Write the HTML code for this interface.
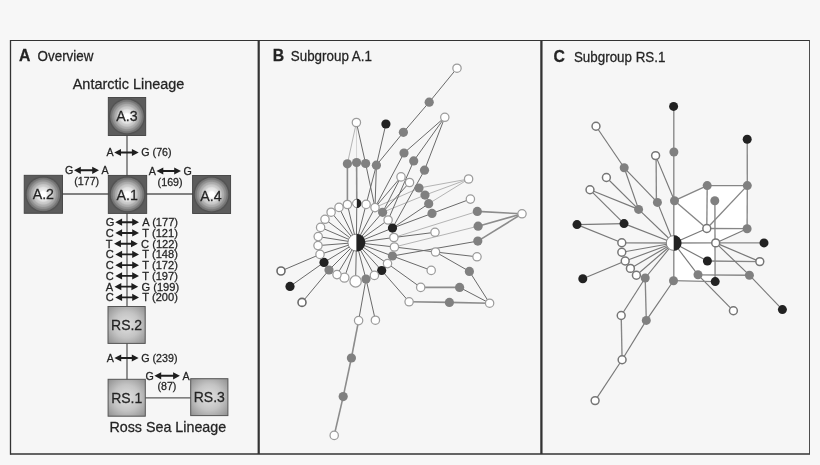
<!DOCTYPE html>
<html lang="en"><head><meta charset="utf-8"><title>Haplotype networks</title>
<style>html,body{margin:0;padding:0;background:#f7f7f7;}body{width:820px;height:465px;overflow:hidden;}svg{display:block;filter:blur(0.4px);}text{font-family:"Liberation Sans",Arial,Helvetica,sans-serif;fill:#242424;stroke:#242424;stroke-width:0.25px;}</style>
</head><body>
<svg width="820" height="465" viewBox="0 0 820 465">
<defs>
<radialGradient id="gc" cx="50%" cy="50%" r="50%"><stop offset="0" stop-color="#ffffff"/><stop offset="0.16" stop-color="#ffffff"/><stop offset="0.25" stop-color="#ebebeb"/><stop offset="0.4" stop-color="#e2e2e2"/><stop offset="0.48" stop-color="#cdcdcd"/><stop offset="0.57" stop-color="#c6c6c6"/><stop offset="0.64" stop-color="#b0b0b0"/><stop offset="0.72" stop-color="#a9a9a9"/><stop offset="0.78" stop-color="#949494"/><stop offset="0.85" stop-color="#8d8d8d"/><stop offset="0.9" stop-color="#7a7a7a"/><stop offset="1" stop-color="#6e6e6e"/></radialGradient><radialGradient id="gh" cx="50%" cy="50%" r="50%"><stop offset="0.86" stop-color="#494949"/><stop offset="1" stop-color="#494949" stop-opacity="0"/></radialGradient>
<radialGradient id="gr" cx="50%" cy="50%" r="70%"><stop offset="0" stop-color="#e0e0e0"/><stop offset="0.5" stop-color="#c4c4c4"/><stop offset="1" stop-color="#8f8f8f"/></radialGradient>
</defs>
<rect x="0" y="0" width="820" height="465" fill="#f7f7f7"/>
<rect x="10.5" y="40.5" width="799.0" height="413.5" fill="#f6f6f6"/>
<line x1="10.5" y1="40.0" x2="10.5" y2="454.7" stroke="#333" stroke-width="1.3"/>
<line x1="10.5" y1="40.5" x2="809.5" y2="40.5" stroke="#333" stroke-width="1.1"/>
<line x1="809.5" y1="40.0" x2="809.5" y2="454.7" stroke="#3a3a3a" stroke-width="0.9"/>
<line x1="10.5" y1="454.0" x2="809.5" y2="454.0" stroke="#333" stroke-width="1.6"/>
<line x1="258.7" y1="40.5" x2="258.7" y2="454.0" stroke="#333" stroke-width="2.2"/>
<line x1="541.4" y1="40.5" x2="541.4" y2="454.0" stroke="#333" stroke-width="2.3"/>
<text transform="translate(18.9 61.0) scale(1 1.06)" font-size="15.8" font-weight="bold">A</text>
<text transform="translate(37.6 60.9) scale(1 1.06)" font-size="13.4">Overview</text>
<text transform="translate(272.8 61.0) scale(1 1.06)" font-size="15.8" font-weight="bold">B</text>
<text transform="translate(290.8 60.9) scale(1 1.06)" font-size="13.4">Subgroup A.1</text>
<text transform="translate(553.6 61.9) scale(1 1.06)" font-size="15.8" font-weight="bold">C</text>
<text transform="translate(573.9 61.8) scale(1 1.06)" font-size="13.4">Subgroup RS.1</text>
<g id="panelA">
<text transform="translate(128.5 89) scale(1 1.06)" font-size="14.45" text-anchor="middle">Antarctic Lineage</text>
<text transform="translate(167.8 432.2) scale(1 1.06)" font-size="14.3" text-anchor="middle">Ross Sea Lineage</text>
<line x1="127" y1="135" x2="127" y2="176" stroke="#5a5a5a" stroke-width="1.3"/>
<line x1="127" y1="213" x2="127" y2="307" stroke="#5a5a5a" stroke-width="1.3"/>
<line x1="127" y1="343" x2="127" y2="380" stroke="#5a5a5a" stroke-width="1.3"/>
<line x1="62" y1="194" x2="109" y2="194" stroke="#5a5a5a" stroke-width="1.3"/>
<line x1="146" y1="194" x2="193" y2="194" stroke="#5a5a5a" stroke-width="1.3"/>
<line x1="145" y1="397.8" x2="191" y2="397.8" stroke="#5a5a5a" stroke-width="1.3"/>
<rect x="108.3" y="97.5" width="37.4" height="38.0" fill="#5c5c5c" stroke="#414141" stroke-width="0.9"/>
<circle cx="127.0" cy="116.5" r="18.9" fill="url(#gh)"/>
<circle cx="127.0" cy="116.5" r="16.9" fill="url(#gc)"/>
<text transform="translate(127.0 121.4) scale(1 1.06)" font-size="14.2" text-anchor="middle">A.3</text>
<rect x="108.3" y="175.4" width="38.4" height="38.0" fill="#5c5c5c" stroke="#414141" stroke-width="0.9"/>
<circle cx="127.5" cy="194.4" r="18.9" fill="url(#gh)"/>
<circle cx="127.5" cy="194.4" r="16.9" fill="url(#gc)"/>
<text transform="translate(127.2 199.8) scale(1 1.06)" font-size="14.2" text-anchor="middle">A.1</text>
<rect x="24.2" y="175.3" width="38.3" height="38.0" fill="#5c5c5c" stroke="#414141" stroke-width="0.9"/>
<circle cx="43.349999999999994" cy="194.3" r="18.9" fill="url(#gh)"/>
<circle cx="43.349999999999994" cy="194.3" r="16.9" fill="url(#gc)"/>
<text transform="translate(43.349999999999994 199.20000000000002) scale(1 1.06)" font-size="14.2" text-anchor="middle">A.2</text>
<rect x="192.6" y="175.5" width="38.0" height="38.0" fill="#5c5c5c" stroke="#414141" stroke-width="0.9"/>
<circle cx="211.6" cy="194.5" r="18.9" fill="url(#gh)"/>
<circle cx="211.6" cy="194.5" r="16.9" fill="url(#gc)"/>
<text transform="translate(211.0 200.5) scale(1 1.06)" font-size="14.2" text-anchor="middle">A.4</text>
<rect x="108.0" y="306.5" width="37.2" height="36.9" fill="url(#gr)" stroke="#555" stroke-width="1"/>
<text transform="translate(126.6 329.95) scale(1 1.06)" font-size="14" text-anchor="middle">RS.2</text>
<rect x="108.1" y="379.3" width="37.2" height="36.9" fill="url(#gr)" stroke="#555" stroke-width="1"/>
<text transform="translate(126.69999999999999 402.75) scale(1 1.06)" font-size="14" text-anchor="middle">RS.1</text>
<rect x="190.7" y="378.7" width="37.2" height="36.9" fill="url(#gr)" stroke="#555" stroke-width="1"/>
<text transform="translate(209.29999999999998 402.15) scale(1 1.06)" font-size="14" text-anchor="middle">RS.3</text>
<path d="M114.2,152.5 L121.0,148.9 L121.0,151.55 L131.89999999999998,151.55 L131.89999999999998,148.9 L138.7,152.5 L131.89999999999998,156.1 L131.89999999999998,153.45 L121.0,153.45 L121.0,156.1 Z" fill="#1e1e1e"/>
<text transform="translate(113.60000000000001 156.2) scale(1 1.06)" font-size="10.7" text-anchor="end">A</text>
<text transform="translate(141.29999999999998 156.2) scale(1 1.06)" font-size="10.7">G (76)</text>
<path d="M74,170.3 L80.8,166.70000000000002 L80.8,169.35000000000002 L92.2,169.35000000000002 L92.2,166.70000000000002 L99,170.3 L92.2,173.9 L92.2,171.25 L80.8,171.25 L80.8,173.9 Z" fill="#1e1e1e"/>
<text transform="translate(73.4 174.0) scale(1 1.06)" font-size="10.7" text-anchor="end">G</text>
<text transform="translate(101.6 174.0) scale(1 1.06)" font-size="10.7">A</text>
<text transform="translate(86.7 185.1) scale(1 1.06)" font-size="10.7" text-anchor="middle">(177)</text>
<path d="M156.5,171 L163.3,167.4 L163.3,170.05 L174.2,170.05 L174.2,167.4 L181,171 L174.2,174.6 L174.2,171.95 L163.3,171.95 L163.3,174.6 Z" fill="#1e1e1e"/>
<text transform="translate(155.9 174.7) scale(1 1.06)" font-size="10.7" text-anchor="end">A</text>
<text transform="translate(183.6 174.7) scale(1 1.06)" font-size="10.7">G</text>
<text transform="translate(170.1 185.5) scale(1 1.06)" font-size="10.7" text-anchor="middle">(169)</text>
<path d="M115.3,222.2 L122.1,218.6 L122.1,221.25 L132.2,221.25 L132.2,218.6 L139.0,222.2 L132.2,225.79999999999998 L132.2,223.14999999999998 L122.1,223.14999999999998 L122.1,225.79999999999998 Z" fill="#1e1e1e"/>
<text transform="translate(105.7 226.10) scale(1 1.06)" font-size="11.1">G</text>
<text transform="translate(142.30 226.10) scale(1 1.06)" font-size="11.1">A (177)</text>
<path d="M115.3,232.94 L122.1,229.34 L122.1,231.99 L132.2,231.99 L132.2,229.34 L139.0,232.94 L132.2,236.54 L132.2,233.89 L122.1,233.89 L122.1,236.54 Z" fill="#1e1e1e"/>
<text transform="translate(105.7 236.84) scale(1 1.06)" font-size="11.1">C</text>
<text transform="translate(142.30 236.84) scale(1 1.06)" font-size="11.1">T (121)</text>
<path d="M114.1,243.67999999999998 L120.89999999999999,240.07999999999998 L120.89999999999999,242.73 L130.99999999999997,242.73 L130.99999999999997,240.07999999999998 L137.79999999999998,243.67999999999998 L130.99999999999997,247.27999999999997 L130.99999999999997,244.62999999999997 L120.89999999999999,244.62999999999997 L120.89999999999999,247.27999999999997 Z" fill="#1e1e1e"/>
<text transform="translate(105.7 247.58) scale(1 1.06)" font-size="11.1">T</text>
<text transform="translate(141.10 247.58) scale(1 1.06)" font-size="11.1">C (122)</text>
<path d="M115.3,254.42 L122.1,250.82 L122.1,253.47 L132.2,253.47 L132.2,250.82 L139.0,254.42 L132.2,258.02 L132.2,255.36999999999998 L122.1,255.36999999999998 L122.1,258.02 Z" fill="#1e1e1e"/>
<text transform="translate(105.7 258.32) scale(1 1.06)" font-size="11.1">C</text>
<text transform="translate(142.30 258.32) scale(1 1.06)" font-size="11.1">T (148)</text>
<path d="M115.3,265.15999999999997 L122.1,261.55999999999995 L122.1,264.21 L132.2,264.21 L132.2,261.55999999999995 L139.0,265.15999999999997 L132.2,268.76 L132.2,266.10999999999996 L122.1,266.10999999999996 L122.1,268.76 Z" fill="#1e1e1e"/>
<text transform="translate(105.7 269.06) scale(1 1.06)" font-size="11.1">C</text>
<text transform="translate(142.30 269.06) scale(1 1.06)" font-size="11.1">T (172)</text>
<path d="M115.3,275.9 L122.1,272.29999999999995 L122.1,274.95 L132.2,274.95 L132.2,272.29999999999995 L139.0,275.9 L132.2,279.5 L132.2,276.84999999999997 L122.1,276.84999999999997 L122.1,279.5 Z" fill="#1e1e1e"/>
<text transform="translate(105.7 279.80) scale(1 1.06)" font-size="11.1">C</text>
<text transform="translate(142.30 279.80) scale(1 1.06)" font-size="11.1">T (197)</text>
<path d="M114.5,286.64 L121.3,283.03999999999996 L121.3,285.69 L131.39999999999998,285.69 L131.39999999999998,283.03999999999996 L138.2,286.64 L131.39999999999998,290.24 L131.39999999999998,287.59 L121.3,287.59 L121.3,290.24 Z" fill="#1e1e1e"/>
<text transform="translate(105.7 290.54) scale(1 1.06)" font-size="11.1">A</text>
<text transform="translate(141.50 290.54) scale(1 1.06)" font-size="11.1">G (199)</text>
<path d="M115.3,297.38 L122.1,293.78 L122.1,296.43 L132.2,296.43 L132.2,293.78 L139.0,297.38 L132.2,300.98 L132.2,298.33 L122.1,298.33 L122.1,300.98 Z" fill="#1e1e1e"/>
<text transform="translate(105.7 301.28) scale(1 1.06)" font-size="11.1">C</text>
<text transform="translate(142.30 301.28) scale(1 1.06)" font-size="11.1">T (200)</text>
<path d="M114.4,358 L121.2,354.4 L121.2,357.05 L131.79999999999998,357.05 L131.79999999999998,354.4 L138.6,358 L131.79999999999998,361.6 L131.79999999999998,358.95 L121.2,358.95 L121.2,361.6 Z" fill="#1e1e1e"/>
<text transform="translate(113.80000000000001 361.7) scale(1 1.06)" font-size="10.7" text-anchor="end">A</text>
<text transform="translate(141.2 361.7) scale(1 1.06)" font-size="10.7">G (239)</text>
<path d="M154.4,375.8 L161.20000000000002,372.2 L161.20000000000002,374.85 L173.1,374.85 L173.1,372.2 L179.9,375.8 L173.1,379.40000000000003 L173.1,376.75 L161.20000000000002,376.75 L161.20000000000002,379.40000000000003 Z" fill="#1e1e1e"/>
<text transform="translate(153.8 379.5) scale(1 1.06)" font-size="10.7" text-anchor="end">G</text>
<text transform="translate(182.5 379.5) scale(1 1.06)" font-size="10.7">A</text>
<text transform="translate(166.9 390.2) scale(1 1.06)" font-size="10.7" text-anchor="middle">(87)</text>
</g>
<g id="panelB">
<line x1="468.6" y1="179" x2="419" y2="188" stroke="#b4b4b4" stroke-width="1.0"/>
<line x1="468.6" y1="179" x2="425" y2="195.1" stroke="#b4b4b4" stroke-width="1.0"/>
<line x1="468.6" y1="179" x2="428.7" y2="203.7" stroke="#b4b4b4" stroke-width="1.0"/>
<line x1="375" y1="207.6" x2="419" y2="188" stroke="#b4b4b4" stroke-width="1.0"/>
<line x1="382.6" y1="212.3" x2="425" y2="195.1" stroke="#b4b4b4" stroke-width="1.0"/>
<line x1="393.9" y1="237.5" x2="477.3" y2="211.4" stroke="#b4b4b4" stroke-width="1.0"/>
<line x1="394.4" y1="247" x2="478.1" y2="226.2" stroke="#b4b4b4" stroke-width="1.0"/>
<line x1="356.4" y1="122.5" x2="347.4" y2="163.8" stroke="#b4b4b4" stroke-width="1.0"/>
<line x1="356.4" y1="122.5" x2="356.6" y2="162.5" stroke="#d4d4d4" stroke-width="1.0"/>
<line x1="457" y1="68.2" x2="429.2" y2="102.2" stroke="#6a6a6a" stroke-width="1.0"/>
<line x1="429.2" y1="102.2" x2="403.4" y2="132.3" stroke="#6a6a6a" stroke-width="1.0"/>
<line x1="403.4" y1="132.3" x2="376.4" y2="165.2" stroke="#6a6a6a" stroke-width="1.0"/>
<line x1="385.9" y1="124" x2="376.4" y2="165.2" stroke="#6a6a6a" stroke-width="1.0"/>
<line x1="356.4" y1="122.5" x2="365.6" y2="163.5" stroke="#6a6a6a" stroke-width="1.0"/>
<line x1="347.4" y1="163.8" x2="347.4" y2="204.5" stroke="#8c8c8c" stroke-width="1.6"/>
<line x1="356.6" y1="162.5" x2="356.8" y2="203.4" stroke="#8c8c8c" stroke-width="1.6"/>
<line x1="365.6" y1="163.5" x2="375" y2="207.6" stroke="#6a6a6a" stroke-width="1.0"/>
<line x1="376.4" y1="165.2" x2="366.1" y2="204.4" stroke="#6a6a6a" stroke-width="1.0"/>
<line x1="376.4" y1="165.2" x2="375" y2="207.6" stroke="#6a6a6a" stroke-width="1.0"/>
<line x1="444.8" y1="117.3" x2="404" y2="153" stroke="#6a6a6a" stroke-width="1.0"/>
<line x1="444.8" y1="117.3" x2="413.7" y2="160.9" stroke="#6a6a6a" stroke-width="1.0"/>
<line x1="444.8" y1="117.3" x2="424.5" y2="170.2" stroke="#6a6a6a" stroke-width="1.0"/>
<line x1="404" y1="153" x2="375" y2="207.6" stroke="#6a6a6a" stroke-width="1.0"/>
<line x1="413.7" y1="160.9" x2="388.1" y2="220" stroke="#6a6a6a" stroke-width="1.0"/>
<line x1="424.5" y1="170.2" x2="392.5" y2="228.1" stroke="#6a6a6a" stroke-width="1.0"/>
<line x1="375" y1="207.6" x2="401" y2="176.9" stroke="#6a6a6a" stroke-width="1.0"/>
<line x1="382.6" y1="212.3" x2="401" y2="176.9" stroke="#6a6a6a" stroke-width="1.0"/>
<line x1="382.6" y1="212.3" x2="409.5" y2="182.5" stroke="#6a6a6a" stroke-width="1.0"/>
<line x1="392.5" y1="228.1" x2="428.7" y2="203.7" stroke="#6a6a6a" stroke-width="1.0"/>
<line x1="392.5" y1="228.1" x2="432" y2="213.4" stroke="#6a6a6a" stroke-width="1.0"/>
<line x1="432" y1="213.4" x2="470.4" y2="199.1" stroke="#6a6a6a" stroke-width="1.0"/>
<line x1="393.9" y1="237.5" x2="435" y2="232.3" stroke="#6a6a6a" stroke-width="1.0"/>
<line x1="394.4" y1="247" x2="435.5" y2="252" stroke="#6a6a6a" stroke-width="1.0"/>
<line x1="392.4" y1="256" x2="477.8" y2="241.1" stroke="#6a6a6a" stroke-width="1.0"/>
<line x1="522" y1="213.8" x2="477.3" y2="211.4" stroke="#8c8c8c" stroke-width="1.6"/>
<line x1="522" y1="213.8" x2="478.1" y2="226.2" stroke="#8c8c8c" stroke-width="1.6"/>
<line x1="522" y1="213.8" x2="477.8" y2="241.1" stroke="#8c8c8c" stroke-width="1.6"/>
<line x1="435.5" y1="252" x2="477" y2="256.8" stroke="#6a6a6a" stroke-width="1.0"/>
<line x1="435.5" y1="252" x2="469.4" y2="271.4" stroke="#6a6a6a" stroke-width="1.0"/>
<line x1="469.4" y1="271.4" x2="489.6" y2="303.2" stroke="#6a6a6a" stroke-width="1.0"/>
<line x1="392.4" y1="256" x2="431.2" y2="270.4" stroke="#6a6a6a" stroke-width="1.0"/>
<line x1="387.5" y1="263.6" x2="420.7" y2="287.4" stroke="#6a6a6a" stroke-width="1.0"/>
<line x1="420.7" y1="287.4" x2="459.6" y2="287.4" stroke="#8c8c8c" stroke-width="1.6"/>
<line x1="459.6" y1="287.4" x2="489.6" y2="303.2" stroke="#6a6a6a" stroke-width="1.0"/>
<line x1="381.7" y1="270.5" x2="409.1" y2="301.8" stroke="#6a6a6a" stroke-width="1.0"/>
<line x1="409.1" y1="301.8" x2="449.4" y2="302.4" stroke="#8c8c8c" stroke-width="1.6"/>
<line x1="449.4" y1="302.4" x2="489.6" y2="303.2" stroke="#8c8c8c" stroke-width="1.6"/>
<line x1="320" y1="254.4" x2="281" y2="271" stroke="#6a6a6a" stroke-width="1.0"/>
<line x1="324" y1="262.4" x2="290" y2="286.4" stroke="#6a6a6a" stroke-width="1.0"/>
<line x1="329" y1="270" x2="302" y2="302.4" stroke="#6a6a6a" stroke-width="1.0"/>
<line x1="366" y1="279" x2="358.6" y2="320.6" stroke="#6a6a6a" stroke-width="1.0"/>
<line x1="366" y1="279" x2="375.4" y2="320.2" stroke="#6a6a6a" stroke-width="1.0"/>
<line x1="358.6" y1="320.6" x2="351.4" y2="358" stroke="#8c8c8c" stroke-width="1.6"/>
<line x1="351.4" y1="358" x2="343.2" y2="396.6" stroke="#8c8c8c" stroke-width="1.6"/>
<line x1="343.2" y1="396.6" x2="334.2" y2="435.4" stroke="#8c8c8c" stroke-width="1.6"/>
<line x1="356.4" y1="242.6" x2="356.8" y2="203.4" stroke="#6a6a6a" stroke-width="1.0"/>
<line x1="356.4" y1="242.6" x2="366.1" y2="204.4" stroke="#6a6a6a" stroke-width="1.0"/>
<line x1="356.4" y1="242.6" x2="375" y2="207.6" stroke="#6a6a6a" stroke-width="1.0"/>
<line x1="356.4" y1="242.6" x2="382.6" y2="212.3" stroke="#6a6a6a" stroke-width="1.0"/>
<line x1="356.4" y1="242.6" x2="388.1" y2="220" stroke="#6a6a6a" stroke-width="1.0"/>
<line x1="356.4" y1="242.6" x2="392.5" y2="228.1" stroke="#6a6a6a" stroke-width="1.0"/>
<line x1="356.4" y1="242.6" x2="393.9" y2="237.5" stroke="#6a6a6a" stroke-width="1.0"/>
<line x1="356.4" y1="242.6" x2="394.4" y2="247" stroke="#6a6a6a" stroke-width="1.0"/>
<line x1="356.4" y1="242.6" x2="392.4" y2="256" stroke="#6a6a6a" stroke-width="1.0"/>
<line x1="356.4" y1="242.6" x2="387.5" y2="263.6" stroke="#6a6a6a" stroke-width="1.0"/>
<line x1="356.4" y1="242.6" x2="381.7" y2="270.5" stroke="#6a6a6a" stroke-width="1.0"/>
<line x1="356.4" y1="242.6" x2="374.4" y2="275.4" stroke="#6a6a6a" stroke-width="1.0"/>
<line x1="356.4" y1="242.6" x2="366" y2="279" stroke="#6a6a6a" stroke-width="1.0"/>
<line x1="356.4" y1="242.6" x2="355.6" y2="281.4" stroke="#6a6a6a" stroke-width="1.0"/>
<line x1="356.4" y1="242.6" x2="344.4" y2="277.6" stroke="#6a6a6a" stroke-width="1.0"/>
<line x1="356.4" y1="242.6" x2="337" y2="274.6" stroke="#6a6a6a" stroke-width="1.0"/>
<line x1="356.4" y1="242.6" x2="329" y2="270" stroke="#6a6a6a" stroke-width="1.0"/>
<line x1="356.4" y1="242.6" x2="324" y2="262.4" stroke="#6a6a6a" stroke-width="1.0"/>
<line x1="356.4" y1="242.6" x2="320" y2="254.4" stroke="#6a6a6a" stroke-width="1.0"/>
<line x1="356.4" y1="242.6" x2="318" y2="245.6" stroke="#6a6a6a" stroke-width="1.0"/>
<line x1="356.4" y1="242.6" x2="318.2" y2="236.6" stroke="#6a6a6a" stroke-width="1.0"/>
<line x1="356.4" y1="242.6" x2="320.6" y2="227.4" stroke="#6a6a6a" stroke-width="1.0"/>
<line x1="356.4" y1="242.6" x2="325" y2="219.3" stroke="#6a6a6a" stroke-width="1.0"/>
<line x1="356.4" y1="242.6" x2="331.1" y2="212.2" stroke="#6a6a6a" stroke-width="1.0"/>
<line x1="356.4" y1="242.6" x2="339" y2="207.4" stroke="#6a6a6a" stroke-width="1.0"/>
<line x1="356.4" y1="242.6" x2="347.4" y2="204.5" stroke="#6a6a6a" stroke-width="1.0"/>
<circle cx="356.8" cy="203.4" r="4.199999999999999" fill="#fff" stroke="#7a7a7a" stroke-width="0.9"/>
<path d="M356.8,198.8 A4.6,4.6 0 0 1 356.8,208.0 Z" fill="#222"/>
<circle cx="366.1" cy="204.4" r="4.17" fill="#fff" stroke="#9c9c9c" stroke-width="1.25"/>
<circle cx="375" cy="207.6" r="4.17" fill="#fff" stroke="#9c9c9c" stroke-width="1.25"/>
<circle cx="382.6" cy="212.3" r="4.6" fill="#808080"/>
<circle cx="388.1" cy="220" r="4.17" fill="#fff" stroke="#9c9c9c" stroke-width="1.25"/>
<circle cx="392.5" cy="228.1" r="4.6" fill="#222"/>
<circle cx="393.9" cy="237.5" r="4.17" fill="#fff" stroke="#9c9c9c" stroke-width="1.25"/>
<circle cx="394.4" cy="247" r="4.17" fill="#fff" stroke="#9c9c9c" stroke-width="1.25"/>
<circle cx="392.4" cy="256" r="4.6" fill="#808080"/>
<circle cx="387.5" cy="263.6" r="4.17" fill="#fff" stroke="#9c9c9c" stroke-width="1.25"/>
<circle cx="381.7" cy="270.5" r="4.6" fill="#222"/>
<circle cx="374.4" cy="275.4" r="4.17" fill="#fff" stroke="#9c9c9c" stroke-width="1.25"/>
<circle cx="366" cy="279" r="4.6" fill="#808080"/>
<circle cx="355.6" cy="281.4" r="5.67" fill="#fff" stroke="#9c9c9c" stroke-width="1.25"/>
<circle cx="344.4" cy="277.6" r="4.58" fill="#fff" stroke="#9c9c9c" stroke-width="1.25"/>
<circle cx="337" cy="274.6" r="4.17" fill="#fff" stroke="#9c9c9c" stroke-width="1.25"/>
<circle cx="329" cy="270" r="4.6" fill="#808080"/>
<circle cx="324" cy="262.4" r="4.6" fill="#222"/>
<circle cx="320" cy="254.4" r="4.17" fill="#fff" stroke="#9c9c9c" stroke-width="1.25"/>
<circle cx="318" cy="245.6" r="4.17" fill="#fff" stroke="#9c9c9c" stroke-width="1.25"/>
<circle cx="318.2" cy="236.6" r="4.17" fill="#fff" stroke="#9c9c9c" stroke-width="1.25"/>
<circle cx="320.6" cy="227.4" r="4.17" fill="#fff" stroke="#9c9c9c" stroke-width="1.25"/>
<circle cx="325" cy="219.3" r="4.17" fill="#fff" stroke="#9c9c9c" stroke-width="1.25"/>
<circle cx="331.1" cy="212.2" r="4.17" fill="#fff" stroke="#9c9c9c" stroke-width="1.25"/>
<circle cx="339" cy="207.4" r="4.17" fill="#fff" stroke="#9c9c9c" stroke-width="1.25"/>
<circle cx="347.4" cy="204.5" r="4.17" fill="#fff" stroke="#9c9c9c" stroke-width="1.25"/>
<circle cx="457" cy="68.2" r="4.17" fill="#fff" stroke="#9c9c9c" stroke-width="1.25"/>
<circle cx="429.2" cy="102.2" r="4.6" fill="#808080"/>
<circle cx="403.4" cy="132.3" r="4.6" fill="#808080"/>
<circle cx="376.4" cy="165.2" r="4.6" fill="#808080"/>
<circle cx="385.9" cy="124" r="4.6" fill="#222"/>
<circle cx="356.4" cy="122.5" r="4.17" fill="#fff" stroke="#9c9c9c" stroke-width="1.25"/>
<circle cx="347.4" cy="163.8" r="4.6" fill="#808080"/>
<circle cx="356.6" cy="162.5" r="4.6" fill="#808080"/>
<circle cx="365.6" cy="163.5" r="4.6" fill="#808080"/>
<circle cx="444.8" cy="117.3" r="4.17" fill="#fff" stroke="#9c9c9c" stroke-width="1.25"/>
<circle cx="404" cy="153" r="4.6" fill="#808080"/>
<circle cx="413.7" cy="160.9" r="4.6" fill="#808080"/>
<circle cx="424.5" cy="170.2" r="4.6" fill="#808080"/>
<circle cx="401" cy="176.9" r="4.17" fill="#fff" stroke="#9c9c9c" stroke-width="1.25"/>
<circle cx="409.5" cy="182.5" r="4.17" fill="#fff" stroke="#9c9c9c" stroke-width="1.25"/>
<circle cx="419" cy="188" r="4.6" fill="#808080"/>
<circle cx="425" cy="195.1" r="4.6" fill="#808080"/>
<circle cx="428.7" cy="203.7" r="4.6" fill="#808080"/>
<circle cx="432" cy="213.4" r="4.6" fill="#808080"/>
<circle cx="468.6" cy="179" r="4.17" fill="#fff" stroke="#9c9c9c" stroke-width="1.25"/>
<circle cx="470.4" cy="199.1" r="4.17" fill="#fff" stroke="#9c9c9c" stroke-width="1.25"/>
<circle cx="477.3" cy="211.4" r="4.6" fill="#808080"/>
<circle cx="478.1" cy="226.2" r="4.6" fill="#808080"/>
<circle cx="477.8" cy="241.1" r="4.6" fill="#808080"/>
<circle cx="522" cy="213.8" r="4.17" fill="#fff" stroke="#9c9c9c" stroke-width="1.25"/>
<circle cx="435" cy="232.3" r="4.17" fill="#fff" stroke="#9c9c9c" stroke-width="1.25"/>
<circle cx="435.5" cy="252" r="4.17" fill="#fff" stroke="#9c9c9c" stroke-width="1.25"/>
<circle cx="477" cy="256.8" r="4.17" fill="#fff" stroke="#9c9c9c" stroke-width="1.25"/>
<circle cx="469.4" cy="271.4" r="4.6" fill="#808080"/>
<circle cx="431.2" cy="270.4" r="4.17" fill="#fff" stroke="#9c9c9c" stroke-width="1.25"/>
<circle cx="420.7" cy="287.4" r="4.17" fill="#fff" stroke="#9c9c9c" stroke-width="1.25"/>
<circle cx="459.6" cy="287.4" r="4.6" fill="#808080"/>
<circle cx="409.1" cy="301.8" r="4.17" fill="#fff" stroke="#9c9c9c" stroke-width="1.25"/>
<circle cx="449.4" cy="302.4" r="4.6" fill="#808080"/>
<circle cx="489.6" cy="303.2" r="4.17" fill="#fff" stroke="#9c9c9c" stroke-width="1.25"/>
<circle cx="281" cy="271" r="4.00" fill="#fff" stroke="#6a6a6a" stroke-width="1.6"/>
<circle cx="290" cy="286.4" r="4.6" fill="#222"/>
<circle cx="302" cy="302.4" r="4.00" fill="#fff" stroke="#6a6a6a" stroke-width="1.6"/>
<circle cx="358.6" cy="320.6" r="4.17" fill="#fff" stroke="#9c9c9c" stroke-width="1.25"/>
<circle cx="375.4" cy="320.2" r="4.17" fill="#fff" stroke="#9c9c9c" stroke-width="1.25"/>
<circle cx="351.4" cy="358" r="4.6" fill="#808080"/>
<circle cx="343.2" cy="396.6" r="4.6" fill="#808080"/>
<circle cx="334.2" cy="435.4" r="4.17" fill="#fff" stroke="#9c9c9c" stroke-width="1.25"/>
<circle cx="356.4" cy="242.6" r="8.5" fill="#fff" stroke="#7a7a7a" stroke-width="0.9"/>
<path d="M356.4,233.7 A8.9,8.9 0 0 1 356.4,251.5 Z" fill="#222"/>
</g>
<g id="panelC">
<polygon points="674.5,200.7 707.2,185.6 747.3,185.6 747.1,228.7 715.7,242.9 673.7,243" fill="#ffffff"/>
<polygon points="673.7,243 715.7,242.9 715.2,281.6 673.5,280.7" fill="#ffffff"/>
<line x1="673.8" y1="106.4" x2="673.8" y2="280.7" stroke="#868686" stroke-width="1.35"/>
<line x1="656.1" y1="155.5" x2="656.4" y2="202" stroke="#868686" stroke-width="1.35"/>
<line x1="714.9" y1="200.7" x2="715.1" y2="281.6" stroke="#868686" stroke-width="1.35"/>
<line x1="596" y1="126.2" x2="624.2" y2="167.8" stroke="#787878" stroke-width="1.15"/>
<line x1="624.2" y1="167.8" x2="657.4" y2="202.4" stroke="#787878" stroke-width="1.15"/>
<line x1="624.2" y1="167.8" x2="638.6" y2="209.4" stroke="#787878" stroke-width="1.15"/>
<line x1="606.4" y1="177.5" x2="638.6" y2="209.4" stroke="#787878" stroke-width="1.15"/>
<line x1="590" y1="189.8" x2="638.6" y2="209.4" stroke="#787878" stroke-width="1.15"/>
<line x1="590" y1="189.8" x2="624" y2="223.6" stroke="#787878" stroke-width="1.15"/>
<line x1="577" y1="224.6" x2="624" y2="223.6" stroke="#787878" stroke-width="1.15"/>
<line x1="577" y1="224.6" x2="621.8" y2="242.8" stroke="#787878" stroke-width="1.15"/>
<line x1="624" y1="223.6" x2="673.7" y2="243" stroke="#787878" stroke-width="1.15"/>
<line x1="638.6" y1="209.4" x2="673.7" y2="243" stroke="#787878" stroke-width="1.15"/>
<line x1="657.4" y1="202.4" x2="673.7" y2="243" stroke="#787878" stroke-width="1.15"/>
<line x1="655.6" y1="155.6" x2="674.5" y2="200.7" stroke="#787878" stroke-width="1.15"/>
<line x1="674.5" y1="200.7" x2="707.2" y2="185.6" stroke="#868686" stroke-width="1.35"/>
<line x1="674.5" y1="200.7" x2="706.8" y2="228.5" stroke="#868686" stroke-width="1.35"/>
<line x1="707.2" y1="185.6" x2="747.3" y2="185.6" stroke="#868686" stroke-width="1.35"/>
<line x1="747.3" y1="185.6" x2="706.8" y2="228.5" stroke="#868686" stroke-width="1.35"/>
<line x1="707.2" y1="185.6" x2="706.8" y2="228.5" stroke="#868686" stroke-width="1.35"/>
<line x1="747.3" y1="185.6" x2="747.1" y2="228.7" stroke="#868686" stroke-width="1.35"/>
<line x1="706.8" y1="228.5" x2="747.1" y2="228.7" stroke="#868686" stroke-width="1.35"/>
<line x1="673.7" y1="243" x2="706.8" y2="228.5" stroke="#787878" stroke-width="1.15"/>
<line x1="715.7" y1="242.9" x2="747.1" y2="228.7" stroke="#787878" stroke-width="1.15"/>
<line x1="673.7" y1="243" x2="715.7" y2="242.9" stroke="#868686" stroke-width="1.35"/>
<line x1="715.7" y1="242.9" x2="764" y2="242.9" stroke="#868686" stroke-width="1.35"/>
<line x1="747.2" y1="139.2" x2="747.3" y2="185.6" stroke="#868686" stroke-width="1.35"/>
<line x1="621.8" y1="252.3" x2="673.7" y2="243" stroke="#787878" stroke-width="1.15"/>
<line x1="625.2" y1="261" x2="673.7" y2="243" stroke="#787878" stroke-width="1.15"/>
<line x1="630.4" y1="268.4" x2="673.7" y2="243" stroke="#787878" stroke-width="1.15"/>
<line x1="636.4" y1="275.2" x2="673.7" y2="243" stroke="#787878" stroke-width="1.15"/>
<line x1="645.2" y1="278" x2="673.7" y2="243" stroke="#787878" stroke-width="1.15"/>
<line x1="582.8" y1="278.8" x2="625.2" y2="261" stroke="#787878" stroke-width="1.15"/>
<line x1="645.2" y1="278" x2="621.2" y2="315.5" stroke="#787878" stroke-width="1.15"/>
<line x1="645.2" y1="278" x2="646.3" y2="320.4" stroke="#868686" stroke-width="1.35"/>
<line x1="673.5" y1="280.7" x2="646.3" y2="320.4" stroke="#787878" stroke-width="1.15"/>
<line x1="646.3" y1="320.4" x2="622.1" y2="359.8" stroke="#787878" stroke-width="1.15"/>
<line x1="622.1" y1="359.8" x2="595.1" y2="400.6" stroke="#787878" stroke-width="1.15"/>
<line x1="621.2" y1="315.5" x2="622.1" y2="359.8" stroke="#868686" stroke-width="1.35"/>
<line x1="673.7" y1="243" x2="707.4" y2="261" stroke="#787878" stroke-width="1.15"/>
<line x1="707.4" y1="261" x2="759.8" y2="261.6" stroke="#868686" stroke-width="1.35"/>
<line x1="715.7" y1="242.9" x2="759.8" y2="261.6" stroke="#787878" stroke-width="1.15"/>
<line x1="715.7" y1="242.9" x2="749.4" y2="275.2" stroke="#787878" stroke-width="1.15"/>
<line x1="749.4" y1="275.2" x2="782.4" y2="309.6" stroke="#787878" stroke-width="1.15"/>
<line x1="673.7" y1="243" x2="698" y2="274.8" stroke="#787878" stroke-width="1.15"/>
<line x1="698" y1="274.8" x2="733.4" y2="310.8" stroke="#787878" stroke-width="1.15"/>
<line x1="698" y1="274.8" x2="749.4" y2="275.2" stroke="#868686" stroke-width="1.35"/>
<line x1="673.5" y1="280.7" x2="715.2" y2="281.6" stroke="#868686" stroke-width="1.35"/>
<line x1="673.7" y1="243" x2="621.8" y2="242.8" stroke="#868686" stroke-width="1.35"/>
<circle cx="673.6" cy="106.4" r="4.5" fill="#222"/>
<circle cx="673.9" cy="152" r="4.5" fill="#808080"/>
<circle cx="655.6" cy="155.6" r="3.95" fill="#fff" stroke="#767676" stroke-width="1.5"/>
<circle cx="596" cy="126.2" r="3.95" fill="#fff" stroke="#767676" stroke-width="1.5"/>
<circle cx="624.2" cy="167.8" r="4.5" fill="#808080"/>
<circle cx="606.4" cy="177.5" r="3.95" fill="#fff" stroke="#767676" stroke-width="1.5"/>
<circle cx="590" cy="189.8" r="3.95" fill="#fff" stroke="#767676" stroke-width="1.5"/>
<circle cx="657.4" cy="202.4" r="4.5" fill="#808080"/>
<circle cx="674.5" cy="200.7" r="4.5" fill="#808080"/>
<circle cx="638.6" cy="209.4" r="4.5" fill="#808080"/>
<circle cx="624" cy="223.6" r="4.5" fill="#222"/>
<circle cx="577" cy="224.6" r="4.5" fill="#222"/>
<circle cx="621.8" cy="242.8" r="3.95" fill="#fff" stroke="#767676" stroke-width="1.5"/>
<circle cx="621.8" cy="252.3" r="3.95" fill="#fff" stroke="#767676" stroke-width="1.5"/>
<circle cx="625.2" cy="261" r="3.95" fill="#fff" stroke="#767676" stroke-width="1.5"/>
<circle cx="630.4" cy="268.4" r="3.95" fill="#fff" stroke="#767676" stroke-width="1.5"/>
<circle cx="636.4" cy="275.2" r="3.95" fill="#fff" stroke="#767676" stroke-width="1.5"/>
<circle cx="645.2" cy="278" r="4.5" fill="#808080"/>
<circle cx="673.5" cy="280.7" r="4.5" fill="#808080"/>
<circle cx="582.8" cy="278.8" r="4.5" fill="#222"/>
<circle cx="621.2" cy="315.5" r="3.95" fill="#fff" stroke="#767676" stroke-width="1.5"/>
<circle cx="646.3" cy="320.4" r="4.5" fill="#808080"/>
<circle cx="622.1" cy="359.8" r="3.95" fill="#fff" stroke="#767676" stroke-width="1.5"/>
<circle cx="595.1" cy="400.6" r="3.95" fill="#fff" stroke="#767676" stroke-width="1.5"/>
<circle cx="707.2" cy="185.6" r="4.5" fill="#808080"/>
<circle cx="747.3" cy="185.6" r="4.5" fill="#808080"/>
<circle cx="714.8" cy="200.7" r="4.5" fill="#808080"/>
<circle cx="706.8" cy="228.5" r="3.95" fill="#fff" stroke="#767676" stroke-width="1.5"/>
<circle cx="747.1" cy="228.7" r="4.5" fill="#808080"/>
<circle cx="715.7" cy="242.9" r="3.95" fill="#fff" stroke="#767676" stroke-width="1.5"/>
<circle cx="764" cy="242.9" r="4.5" fill="#222"/>
<circle cx="747.2" cy="139.2" r="4.5" fill="#222"/>
<circle cx="707.4" cy="261" r="4.5" fill="#222"/>
<circle cx="759.8" cy="261.6" r="3.95" fill="#fff" stroke="#767676" stroke-width="1.5"/>
<circle cx="698" cy="274.8" r="4.5" fill="#808080"/>
<circle cx="749.4" cy="275.2" r="4.5" fill="#808080"/>
<circle cx="715.2" cy="281.6" r="4.5" fill="#222"/>
<circle cx="733.4" cy="310.8" r="3.95" fill="#fff" stroke="#767676" stroke-width="1.5"/>
<circle cx="782.4" cy="309.6" r="4.5" fill="#222"/>
<circle cx="673.7" cy="243" r="7.3999999999999995" fill="#fff" stroke="#7a7a7a" stroke-width="0.9"/>
<path d="M673.7,235.2 A7.8,7.8 0 0 1 673.7,250.8 Z" fill="#222"/>
</g>
</svg></body></html>
